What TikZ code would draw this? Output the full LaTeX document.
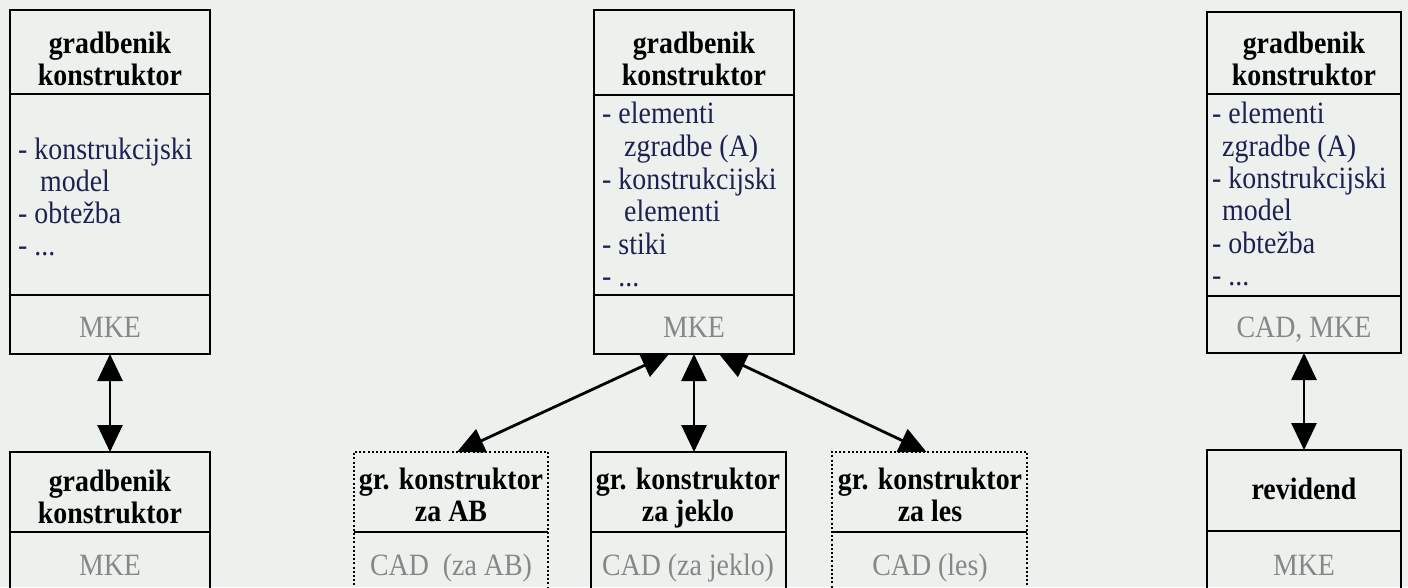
\documentclass[tikz,border=0pt]{standalone}
\usepackage{fontspec}
\setmainfont[FakeStretch=0.9]{Liberation Serif}
\usetikzlibrary{arrows.meta,calc}
\definecolor{bg}{RGB}{236,241,237}
\definecolor{listc}{RGB}{32,32,82}
\definecolor{toolc}{RGB}{135,135,135}
\begin{document}
\begin{tikzpicture}[x=1pt,y=-1pt,
  frame/.style={draw=black,line width=2.8pt,inner sep=0pt,outer sep=0pt,anchor=north west},
  dotframe/.style={frame,line width=2.8pt,dash pattern=on 2pt off 2.2pt},
  sepline/.style={line width=2.6pt},
  dotsep/.style={line width=2.6pt},
  title/.style={font=\bfseries\fontsize{31}{33}\selectfont,anchor=base,inner sep=0pt},
  item/.style={font=\fontsize{31}{33}\selectfont,text=listc,anchor=base west,inner sep=0pt},
  tool/.style={font=\fontsize{31}{33}\selectfont,text=toolc,anchor=base,inner sep=0pt},
  bi/.style={line width=2.8pt,{Triangle[length=27pt,width=25pt]}-{Triangle[length=27pt,width=25pt]}}
]
\path[use as bounding box,fill=bg] (0,0) rectangle (1408,587);

% ---------- left column ----------
\node[frame,minimum width=200pt,minimum height=344pt] (L1) at (10,10) {};
\draw[sepline] (10,94) -- (210,94);
\draw[sepline] (10,295) -- (210,295);
\node[title] (L1t1) at (110,53) {gradbenik};
\node[title] (L1t2) at (110,85) {konstruktor};
\node[item] (L1i1) at (18,159) {- konstrukcijski};
\node[item] (L1i2) at (40,191) {model};
\node[item] (L1i3) at (18,223) {- obtežba};
\node[item] (L1i4) at (18,255) {- ...};
\node[tool] (L1m) at (110,337) {MKE};

\node[frame,minimum width=200pt,minimum height=140pt] (L2) at (10,452) {};
\draw[sepline] (10,532) -- (210,532);
\node[title] (L2t1) at (110,491) {gradbenik};
\node[title] (L2t2) at (110,523) {konstruktor};
\node[tool] (L2m) at (110,575) {MKE};

\draw[bi] (L1.south) -- (L2.north);

% ---------- centre column ----------
\node[frame,minimum width=200pt,minimum height=344pt] (C1) at (594,10) {};
\draw[sepline] (594,95) -- (794,95);
\draw[sepline] (594,295) -- (794,295);
\node[title] (C1t1) at (694,53) {gradbenik};
\node[title] (C1t2) at (694,85) {konstruktor};
\node[item] (C1i1) at (602,123) {- elementi};
\node[item] (C1i2) at (624,156) {zgradbe (A)};
\node[item] (C1i3) at (602,189) {- konstrukcijski};
\node[item] (C1i4) at (624,221) {elementi};
\node[item] (C1i5) at (602,254) {- stiki};
\node[item] (C1i6) at (602,286) {- ...};
\node[tool] (C1m) at (694,337) {MKE};

\node[dotframe,minimum width=194pt,minimum height=140pt] (AB) at (354,452) {};
\draw[dotsep] (354,532) -- (548,532);
\node[title] (ABt1) at (451,489) {gr. konstruktor};
\node[title] (ABt2) at (451,521) {za AB};
\node[tool] (ABm) at (451,575) {CAD\ \ (za AB)};

\node[frame,minimum width=195pt,minimum height=140pt] (J) at (591,452) {};
\draw[sepline] (591,532) -- (786,532);
\node[title] (Jt1) at (688,489) {gr. konstruktor};
\node[title] (Jt2) at (688,521) {za jeklo};
\node[tool] (Jm) at (688,575) {CAD (za jeklo)};

\node[dotframe,minimum width=195pt,minimum height=140pt] (LES) at (832,452) {};
\draw[dotsep] (832,532) -- (1027,532);
\node[title] (LESt1) at (930,489) {gr. konstruktor};
\node[title] (LESt2) at (930,521) {za les};
\node[tool] (LESm) at (930,575) {CAD (les)};

\draw[bi] ($(C1.south)+(-25,0)$) -- ($(AB.north)+(6,0)$);
\draw[bi] (C1.south) -- (C1.south |- J.north);
\draw[bi] ($(C1.south)+(25,0)$) -- ($(LES.north)+(-3,0)$);

% ---------- right column ----------
\node[frame,minimum width=194pt,minimum height=341pt] (R1) at (1207,12) {};
\draw[sepline] (1207,94) -- (1401,94);
\draw[sepline] (1207,296) -- (1401,296);
\node[title] (R1t1) at (1304,53) {gradbenik};
\node[title] (R1t2) at (1304,85) {konstruktor};
\node[item] (R1i1) at (1212,123) {- elementi};
\node[item] (R1i2) at (1222,156) {zgradbe (A)};
\node[item] (R1i3) at (1212,188) {- konstrukcijski};
\node[item] (R1i4) at (1222,220) {model};
\node[item] (R1i5) at (1212,253) {- obtežba};
\node[item] (R1i6) at (1212,285) {- ...};
\node[tool] (R1m) at (1304,337) {CAD, MKE};

\node[frame,minimum width=194pt,minimum height=142pt] (R2) at (1207,450) {};
\draw[sepline] (1207,531) -- (1401,531);
\node[title] (R2t) at (1304,499) {revidend};
\node[tool] (R2m) at (1304,575) {MKE};

\draw[bi] (R1.south) -- (R2.north);
\end{tikzpicture}
\end{document}
